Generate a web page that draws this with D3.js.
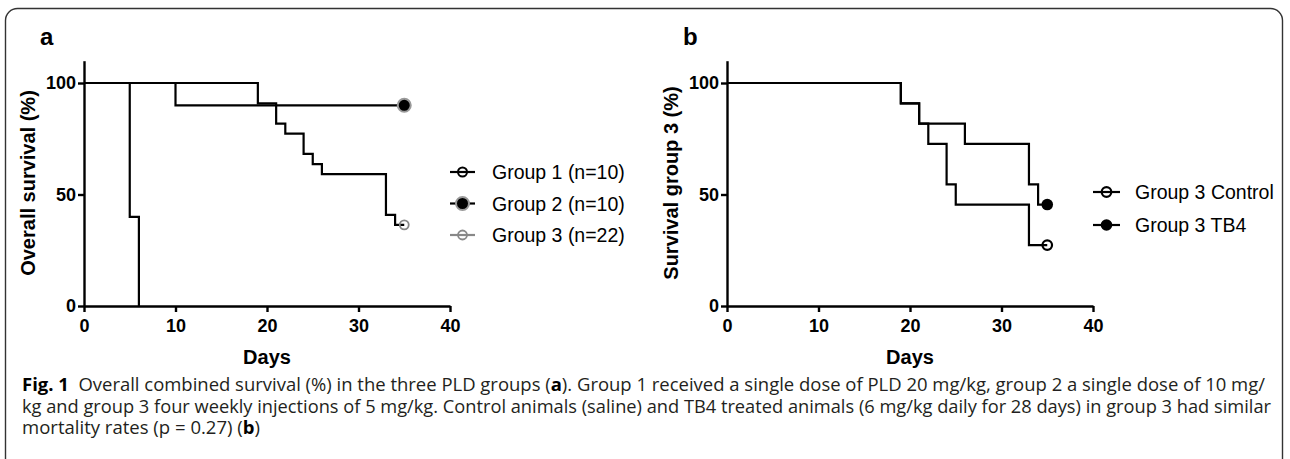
<!DOCTYPE html>
<html>
<head>
<meta charset="utf-8">
<script src="https://cdn.jsdelivr.net/npm/d3@7"></script>
<style>
  body { margin: 0; background: #fff; }
  svg { display: block; }
  .axis path, .axis line { stroke: #000; stroke-width: 2.4; }
  .axis text { font-family: "Liberation Sans", Arial, sans-serif; font-weight: bold; font-size: 18px; fill: #000; }
</style>
</head>
<body>
<div id="chart"></div>
<script>
const W = 1290, H = 459;

// tick values
const dayTicks = [0, 10, 20, 30, 40];
const survTicks = [0, 50, 100];

// panel a: Kaplan-Meier steps (day, survival %)
const g1Days = [0, 5, 6];
const g1Surv = [100, 40, 0];
const g2Days = [0, 10, 35];
const g2Surv = [100, 90, 90];
const g3Days = [0, 19, 21, 22, 24, 25, 26, 33, 34, 35];
const g3Surv = [100, 90.9, 81.8, 77.3, 68.2, 63.6, 59.1, 40.9, 36.4, 36.4];

// panel b
const ctrlDays = [0, 19, 21, 22, 24, 25, 33, 35];
const ctrlSurv = [100, 90.9, 81.8, 72.7, 54.5, 45.5, 27.3, 27.3];
const tb4Days = [0, 19, 21, 26, 33, 34, 35];
const tb4Surv = [100, 90.9, 81.8, 72.7, 54.5, 45.5, 45.5];

const legendA = ["Group 1 (n=10)", "Group 2 (n=10)", "Group 3 (n=22)"];
const legendB = ["Group 3 Control", "Group 3 TB4"];

const svg = d3.select("#chart").append("svg")
    .attr("width", W)
    .attr("height", H);

// rounded frame around figure + caption
svg.append("rect")
    .attr("x", 5.5).attr("y", 8.5)
    .attr("width", 1277).attr("height", 475)
    .attr("rx", 12)
    .attr("fill", "none")
    .attr("stroke", "#333")
    .attr("stroke-width", 1.4);

const toPts = (days, surv) => days.map((d, i) => [d, surv[i]]);

function panel(x0, x1, label, yTitle) {
    const x = d3.scaleLinear().domain([0, 40]).range([x0, x1]);
    const y = d3.scaleLinear().domain([0, 110]).range([306, 60.7]);
    const g = svg.append("g");

    g.append("g").attr("class", "axis")
        .attr("transform", `translate(0,306)`)
        .call(d3.axisBottom(x).tickValues(dayTicks).tickSize(6).tickSizeOuter(0).tickPadding(7));
    g.append("g").attr("class", "axis")
        .attr("transform", `translate(${x0},0)`)
        .call(d3.axisLeft(y).tickValues(survTicks).tickSize(6).tickSizeOuter(0).tickPadding(2));

    g.append("text")
        .attr("x", (x0 + x1) / 2).attr("y", 364)
        .attr("text-anchor", "middle")
        .style("font-family", "Liberation Sans, Arial, sans-serif")
        .style("font-weight", "bold").style("font-size", "20px")
        .text("Days");

    g.append("text")
        .attr("transform", `translate(${x0 - 49},183) rotate(-90)`)
        .attr("text-anchor", "middle")
        .style("font-family", "Liberation Sans, Arial, sans-serif")
        .style("font-weight", "bold").style("font-size", "20px")
        .text(yTitle);

    g.append("text")
        .attr("x", x0 - 44).attr("y", 45)
        .style("font-family", "Liberation Sans, Arial, sans-serif")
        .style("font-weight", "bold").style("font-size", "24px")
        .text(label);

    return {x, y, g};
}

const line = (x, y) => d3.line()
    .x(d => x(d[0])).y(d => y(d[1]))
    .curve(d3.curveStepAfter);

function drawSteps(p, pts, color) {
    p.g.append("path")
        .datum(pts)
        .attr("d", line(p.x, p.y))
        .attr("fill", "none")
        .attr("stroke", color)
        .attr("stroke-width", 2.2)
        .attr("stroke-linejoin", "miter");
}

// ---- panel a
const pa = panel(84, 450, "a", "Overall survival (%)");
drawSteps(pa, toPts(g1Days, g1Surv), "#000");
drawSteps(pa, toPts(g2Days, g2Surv), "#000");
drawSteps(pa, toPts(g3Days, g3Surv), "#000");

const markerStyles = {
    g1: {r: 4.5, fill: "none", stroke: "#000", sw: 2},
    g2: {r: 6.5, fill: "#000", stroke: "#999", sw: 2},
    g3: {r: 4.5, fill: "none", stroke: "#888", sw: 1.8},
    ctrl: {r: 4.8, fill: "none", stroke: "#000", sw: 2.2},
    tb4: {r: 5.8, fill: "#000", stroke: "#000", sw: 0}
};

function marker(g, cx, cy, s) {
    g.append("circle")
        .attr("cx", cx).attr("cy", cy).attr("r", s.r)
        .attr("fill", s.fill)
        .attr("stroke", s.stroke)
        .attr("stroke-width", s.sw);
}

marker(pa.g, pa.x(35), pa.y(g2Surv[g2Surv.length - 1]), markerStyles.g2);
marker(pa.g, pa.x(35), pa.y(g3Surv[g3Surv.length - 1]), markerStyles.g3);

// legend a
const legA = svg.append("g");
const legAStyles = [markerStyles.g1, markerStyles.g2, markerStyles.g3];
const legALine = ["#000", "#000", "#888"];
legendA.forEach((t, i) => {
    const cy = 172 + i * 31.5;
    legA.append("line")
        .attr("x1", 450).attr("x2", 475).attr("y1", cy).attr("y2", cy)
        .attr("stroke", legALine[i]).attr("stroke-width", 2.2);
    marker(legA, 462.5, cy, legAStyles[i]);
    legA.append("text")
        .attr("x", 492).attr("y", cy + 7)
        .style("font-family", "Liberation Sans, Arial, sans-serif")
        .style("font-size", "19.5px")
        .text(t);
});

// ---- panel b
const pb = panel(727, 1093, "b", "Survival group 3 (%)");
drawSteps(pb, toPts(ctrlDays, ctrlSurv), "#000");
drawSteps(pb, toPts(tb4Days, tb4Surv), "#000");
marker(pb.g, pb.x(35), pb.y(ctrlSurv[ctrlSurv.length - 1]), markerStyles.ctrl);
marker(pb.g, pb.x(35), pb.y(tb4Surv[tb4Surv.length - 1]), markerStyles.tb4);

const legB = svg.append("g");
const legBStyles = [markerStyles.ctrl, markerStyles.tb4];
legendB.forEach((t, i) => {
    const cy = 192 + i * 33;
    legB.append("line")
        .attr("x1", 1093).attr("x2", 1120).attr("y1", cy).attr("y2", cy)
        .attr("stroke", "#000").attr("stroke-width", 2.2);
    marker(legB, 1106.5, cy, legBStyles[i]);
    legB.append("text")
        .attr("x", 1135).attr("y", cy + 7)
        .style("font-family", "Liberation Sans, Arial, sans-serif")
        .style("font-size", "19.5px")
        .text(t);
});

// ---- caption
const capLines = [
    [["Fig. 1", true], ["\u00a0\u00a0Overall combined survival (%) in the three PLD groups (", false], ["a", true],
     ["). Group 1 received a single dose of PLD 20 mg/kg, group 2 a single dose of 10 mg/", false]],
    [["kg and group 3 four weekly injections of 5 mg/kg. Control animals (saline) and TB4 treated animals (6 mg/kg daily for 28 days) in group 3 had similar", false]],
    [["mortality rates (p\u00a0=\u00a00.27) (", false], ["b", true], [")", false]]
];
const capWidths = [1243, 1249, 238];

capLines.forEach((parts, i) => {
    const t = svg.append("text")
        .attr("x", 22).attr("y", 391 + i * 21.5)
        .style("font-family", "'Open Sans', 'Noto Sans', sans-serif")
        .style("font-size", "18px")
        .attr("fill", "#231f20");
    if (capWidths[i]) t.attr("textLength", capWidths[i]).attr("lengthAdjust", "spacingAndGlyphs");
    parts.forEach(([s, b]) => {
        t.append("tspan")
            .style("font-weight", b ? "bold" : "normal")
            .attr("fill", b ? "#000" : "#231f20")
            .text(s);
    });
});
</script>
</body>
</html>
